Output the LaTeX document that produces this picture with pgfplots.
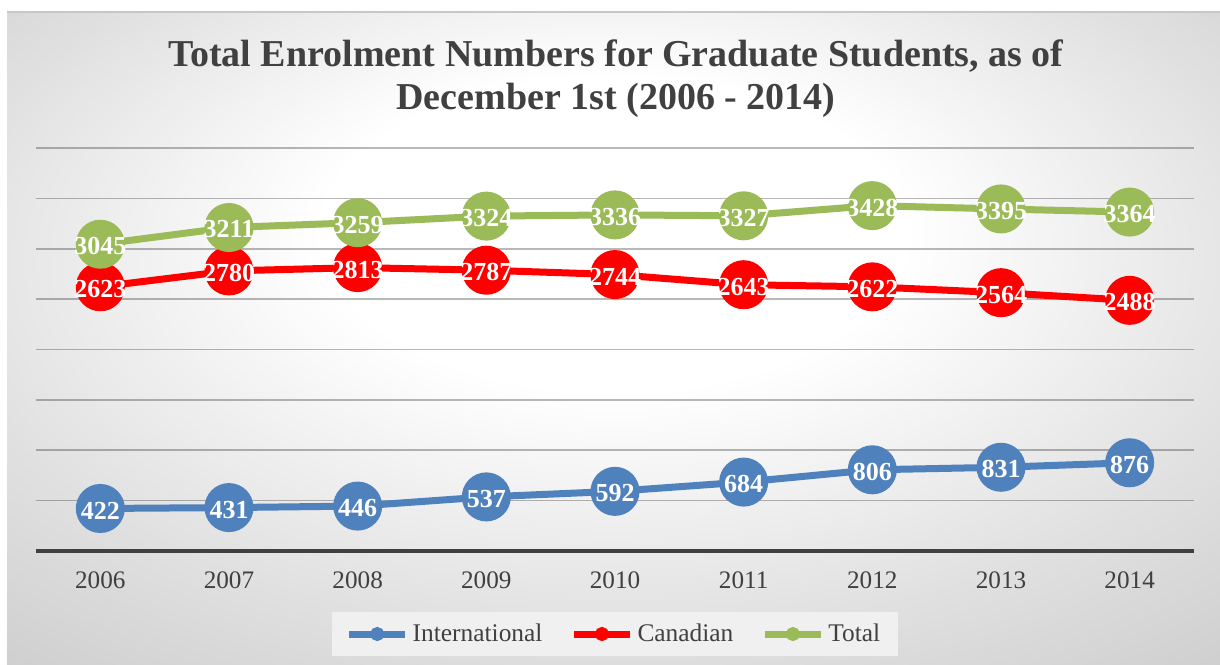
\documentclass[border=0pt]{standalone}
\usepackage{fontspec}
\setmainfont{Liberation Serif}
\usepackage{pgfplots}
\pgfplotsset{compat=1.18}

\definecolor{intl}{HTML}{4F81BD}
\definecolor{canad}{HTML}{FF0000}
\definecolor{tot}{HTML}{9BBB59}
\definecolor{txt}{HTML}{404040}

% light radial background, whitest a little above the middle
\pgfdeclareradialshading{chartbg}{\pgfpoint{0bp}{10bp}}{%
  color(0bp)=(white); color(12bp)=(white); color(28bp)=(black!12);
  color(40bp)=(black!20); color(60bp)=(black!26)}

\begin{document}
\begin{tikzpicture}
% picture frame (1 px of the reference = 0.5pt)
\useasboundingbox (-18pt,-56.5pt) rectangle (592pt,275.5pt);
\fill[white] (-18pt,-56.5pt) rectangle (592pt,275.5pt);
\shade[shading=chartbg] (-14.5pt,-56.5pt) rectangle (592pt,269.5pt);
\draw[black!22, line width=0.8pt] (-14.5pt,269.5pt) -- (592pt,269.5pt);

\begin{axis}[
    at={(0pt,0pt)}, anchor=south west,
    scale only axis,
    width=579pt, height=201.5pt,
    xmin=-0.5, xmax=8.5,
    ymin=0, ymax=4000,
    xtick={0,1,2,3,4,5,6,7,8},
    xticklabels={2006,2007,2008,2009,2010,2011,2012,2013,2014},
    xticklabel style={font=\fontsize{12.6}{14}\selectfont, text=txt, yshift=-7pt},
    ytick={500,1000,1500,2000,2500,3000,3500,4000},
    yticklabels={},
    ymajorgrids,
    grid style={black, opacity=0.28, line width=0.8pt},
    extra y ticks={0},
    extra y tick labels={},
    extra y tick style={major grid style={draw=txt, opacity=1, line width=2.2pt}},
    axis line style={draw=none},
    tick style={draw=none},
    major tick length=0pt,
    /pgf/number format/assume math mode=true,
    /pgf/number format/1000 sep={},
    clip=false,
    every axis plot/.append style={line width=3.5pt, mark=*, mark size=10.5pt},
    nodes near coords,
    every node near coord/.append style={anchor=center, text=white, yshift=-1pt,
        font=\bfseries\fontsize{13}{14}\selectfont},
    legend style={at={(0.5,-0.206)}, anchor=center, legend columns=3,
        draw=none, fill=black!6, text=txt, font=\fontsize{12.7}{14}\selectfont,
        inner xsep=7pt, inner ysep=4pt},
    legend cell align=left,
    /tikz/every even column/.append style={column sep=12pt},
    legend image code/.code={\draw[#1, mark size=1.7pt, mark repeat=2, mark phase=2]
        plot coordinates {(0pt,0pt) (14pt,0pt) (28pt,0pt)};},
]

\addplot[color=intl, mark options={fill=intl, draw=none}] coordinates {
    (0,422) (1,431) (2,446) (3,537) (4,592) (5,684) (6,806) (7,831) (8,876)
};
\addlegendentry{International}

\addplot[color=canad, mark options={fill=canad, draw=none}] coordinates {
    (0,2623) (1,2780) (2,2813) (3,2787) (4,2744) (5,2643) (6,2622) (7,2564) (8,2488)
};
\addlegendentry{Canadian}

\addplot[color=tot, mark options={fill=tot, draw=none}] coordinates {
    (0,3045) (1,3211) (2,3259) (3,3324) (4,3336) (5,3327) (6,3428) (7,3395) (8,3364)
};
\addlegendentry{Total}

\end{axis}

\node[font=\bfseries\fontsize{19}{21.5}\selectfont, text=txt, align=center]
    at (290pt,236pt) {Total Enrolment Numbers for Graduate Students, as of\\December 1st (2006 - 2014)};
\end{tikzpicture}
\end{document}
